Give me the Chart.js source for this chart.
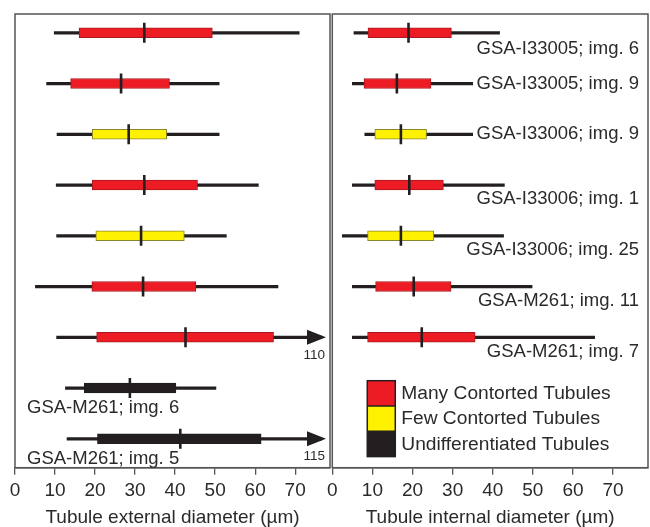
<!DOCTYPE html>
<html><head><meta charset="utf-8">
<script src="https://cdn.jsdelivr.net/npm/chart.js@4"></script>
<style>
html,body{margin:0;padding:0;background:#fff;width:650px;height:527px;overflow:hidden}
#wl{position:absolute;left:0;top:0;width:340px;height:527px}
#wr{position:absolute;left:320px;top:0;width:330px;height:527px}
</style></head><body>
<div id="wl"><canvas id="cl"></canvas></div>
<div id="wr"><canvas id="cr"></canvas></div>
<script>
// ---- data ----
const samples = ["GSA-I33005; img. 6", "GSA-I33005; img. 9", "GSA-I33006; img. 9", "GSA-I33006; img. 1",
  "GSA-I33006; img. 25", "GSA-M261; img. 11", "GSA-M261; img. 7", "GSA-M261; img. 6", "GSA-M261; img. 5"];
const categories = ["Many Contorted Tubules", "Few Contorted Tubules", "Undifferentiated Tubules"];
const sampleType = [0, 0, 1, 0, 1, 0, 0, 2, 2];
// external diameter (µm)
const extMin = [9.8, 7.9, 10.5, 10.3, 10.4, 5.1, 10.4, 12.6, 13];
const extQ1  = [16, 13.9, 19.3, 19.3, 20.2, 19.2, 20.4, 17.3, 20.6];
const extMed = [32.3, 26.5, 28.4, 32.3, 31.5, 32, 42.6, 28.7, 41.3];
const extQ3  = [49.3, 38.6, 37.9, 45.6, 42.3, 45.2, 64.6, 40.2, 61.5];
const extMax = [71, 51, 51, 60.8, 52.8, 65.7, 110, 50.2, 115];
// internal diameter (µm)
const intMin = [5.4, 5, 8.1, 5, 2.5, 5, 5];
const intQ1  = [8.9, 7.9, 10.6, 10.6, 8.8, 10.8, 8.8];
const intMed = [19, 16.1, 17.1, 19.2, 17.1, 20.3, 22.3];
const intQ3  = [29.7, 24.6, 23.5, 27.7, 25.3, 29.6, 35.6];
const intMax = [41.7, 35, 35, 42.9, 42.7, 49.8, 65.4];
const xTickValues = [0, 10, 20, 30, 40, 50, 60, 70];

// ---- styles / layout ----
const FILL = ['#ed1c24', '#fff200', '#231f20'];
const EDGE = ['#a8191f', '#8a862c', '#231f20'];
const INK = '#231f20';
const TXT = '#2a2a2a';
const FONT = "Arial, 'Liberation Sans', Helvetica, sans-serif";
const labelDy = [16, 0, 0, 14, 14, 14, 15, 20, 20];
const AXMAX = 78.7;

function makeChart(id, mins, q1s, meds, q3s, maxs, title, pad, isRight) {
  const n = mins.length;
  const types = sampleType.slice(0, n);
  const plugin = {
    id: 'panel' + id,
    afterDatasetsDraw(chart) {
      const {ctx, chartArea: a, scales: {x, y}} = chart;
      ctx.save();
      // frame
      ctx.strokeStyle = '#555'; ctx.lineWidth = 1.5;
      ctx.strokeRect(a.left, a.top, a.right - a.left, a.bottom - a.top);
      // overflow arrows
      for (let i = 0; i < n; i++) {
        if (maxs[i] > x.max) {
          const py = y.getPixelForValue(i);
          const tip = a.right - 4;
          ctx.fillStyle = INK;
          ctx.beginPath();
          ctx.moveTo(tip, py); ctx.lineTo(tip - 19, py - 7.5); ctx.lineTo(tip - 19, py + 7.5);
          ctx.closePath(); ctx.fill();
          ctx.font = '13.5px ' + FONT; ctx.fillStyle = TXT;
          ctx.textAlign = 'right'; ctx.textBaseline = 'middle';
          ctx.fillText(String(maxs[i]), a.right - 5, py + 18);
        }
      }
      // sample labels
      ctx.font = '18.5px ' + FONT; ctx.fillStyle = TXT; ctx.textBaseline = 'middle';
      for (let i = 0; i < samples.length; i++) {
        const ownsLabel = isRight ? i < intMin.length : i >= intMin.length;
        if (!ownsLabel) continue;
        const py = y.getPixelForValue(i) + labelDy[i];
        if (isRight) { ctx.textAlign = 'right'; ctx.fillText(samples[i], a.right - 9, py); }
        else { ctx.textAlign = 'left'; ctx.fillText(samples[i], a.left + 12, py); }
      }
      // legend
      if (isRight) {
        const sw = 28, sh = 25.3;
        const lx = a.left + 35, ly = a.bottom - 87;
        ctx.font = '19.2px ' + FONT; ctx.textAlign = 'left';
        categories.forEach((c, k) => {
          ctx.fillStyle = FILL[k];
          ctx.fillRect(lx, ly + k * sh, sw, sh);
          ctx.fillStyle = TXT;
          ctx.fillText(c, lx + sw + 6, ly + k * sh + sh / 2 + 0.5);
        });
        ctx.strokeStyle = INK; ctx.lineWidth = 1.5;
        ctx.strokeRect(lx, ly, sw, sh * 3);
        ctx.beginPath();
        ctx.moveTo(lx, ly + sh); ctx.lineTo(lx + sw, ly + sh);
        ctx.moveTo(lx, ly + 2 * sh); ctx.lineTo(lx + sw, ly + 2 * sh);
        ctx.stroke();
      }
      ctx.restore();
    }
  };
  return new Chart(document.getElementById(id), {
    type: 'bar',
    data: {
      datasets: [
        { type: 'scatter', order: 0, data: meds.map((m, i) => ({x: m, y: i})),
          pointStyle: 'line', rotation: 90, radius: 10, hoverRadius: 10,
          borderColor: INK, backgroundColor: INK, borderWidth: 2.6 },
        { type: 'bar', order: 1, indexAxis: 'y', grouped: false,
          data: q1s.map((q, i) => ({y: i, x: [q, q3s[i]]})),
          barThickness: 10, backgroundColor: types.map(t => FILL[t]),
          borderColor: types.map(t => EDGE[t]), borderWidth: 1, borderSkipped: false },
        { type: 'bar', order: 2, indexAxis: 'y', grouped: false,
          data: mins.map((m, i) => ({y: i, x: [m, maxs[i]]})),
          barThickness: 2.6, backgroundColor: INK, borderWidth: 0,
          clip: {left: 0, top: 0, bottom: 0, right: -8} }
      ]
    },
    options: {
      indexAxis: 'y',
      responsive: true, maintainAspectRatio: false, animation: false, events: [],
      layout: {padding: pad, autoPadding: false},
      plugins: {legend: {display: false}, tooltip: {enabled: false}},
      scales: {
        y: {type: 'linear', display: false, reverse: true, offset: false, min: -0.37, max: 8.57},
        x: {type: 'linear', min: 0, max: AXMAX, position: 'bottom', offset: false,
          afterBuildTicks: s => { s.ticks = xTickValues.map(v => ({value: v})); },
          ticks: {color: TXT, font: {family: FONT, size: 19, lineHeight: 1.0}, padding: 7, autoSkip: false, maxRotation: 0},
          grid: {drawOnChartArea: false, drawTicks: true, tickLength: 7, color: '#555', lineWidth: 1.3},
          border: {display: true, color: '#555', width: 1.5},
          title: {display: true, text: title, color: TXT,
            font: {family: FONT, size: 19, lineHeight: 1.0}, padding: {top: 0.3, bottom: 0}}
        }
      }
    },
    plugins: [plugin]
  });
}

makeChart('cl', extMin, extQ1, extMed, extQ3, extMax, 'Tubule external diameter (µm)',
  {left: 15, right: 10, top: 14, bottom: 0}, false);
makeChart('cr', intMin, intQ1, intMed, intQ3, intMax, 'Tubule internal diameter (µm)',
  {left: 10, right: 2, top: 14, bottom: 0}, true);
</script>
</body></html>
